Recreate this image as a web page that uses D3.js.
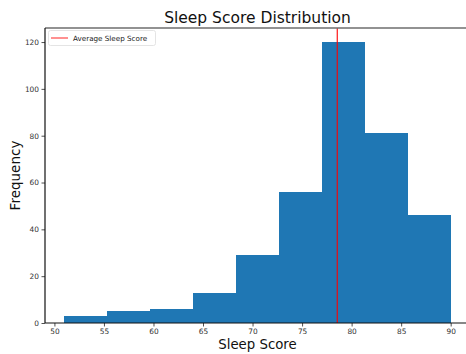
<!DOCTYPE html>
<html>
<head>
<meta charset="utf-8">
<script src="https://cdn.jsdelivr.net/npm/d3@7"></script>
<style>
  html, body { margin: 0; padding: 0; background: #fff; overflow: hidden; width: 466px; height: 354px; }
  svg { display: block; font-family: "DejaVu Sans", sans-serif; overflow: hidden; }
</style>
</head>
<body>
<svg id="chart" width="466" height="354"></svg>
<script>
// Histogram of sleep scores: nine equal-width bins between 51 and 90
const binEdges = [51, 55.333, 59.667, 64, 68.333, 72.667, 77, 81.333, 85.667, 90];
const binCounts = [3, 5, 6, 13, 29, 56, 120, 81, 46];
const averageScore = 78.55;
const xTicks = [50, 55, 60, 65, 70, 75, 80, 85, 90];
const yTicks = [0, 20, 40, 60, 80, 100, 120];

const svg = d3.select("#chart");
const plot = { left: 45, right: 470, top: 28, bottom: 323 };
const W = 466;

const span = binEdges[binEdges.length - 1] - binEdges[0];
const x = d3.scaleLinear()
  .domain([binEdges[0] - 0.05 * span, binEdges[binEdges.length - 1] + 0.05 * span])
  .range([plot.left, plot.right]);
const y = d3.scaleLinear()
  .domain([0, d3.max(binCounts) * 1.05])
  .range([plot.bottom, plot.top]);

const bins = binCounts.map((c, i) => ({ x0: binEdges[i], x1: binEdges[i + 1], count: c }));

// bars
svg.append("g").selectAll("rect").data(bins).join("rect")
  .attr("x", d => x(d.x0))
  .attr("y", d => y(d.count))
  .attr("width", d => x(d.x1) - x(d.x0))
  .attr("height", d => y(0) - y(d.count))
  .attr("fill", "#1f77b4")
  .attr("shape-rendering", "crispEdges");

// average marker
svg.append("line")
  .attr("x1", x(averageScore)).attr("x2", x(averageScore))
  .attr("y1", plot.top).attr("y2", plot.bottom)
  .attr("stroke", "#ff0000").attr("stroke-width", 1.1);

// axes
const xAxis = d3.axisBottom(x).tickValues(xTicks).tickSize(3.5).tickPadding(2.5);
const yAxis = d3.axisLeft(y).tickValues(yTicks).tickSize(3.5).tickPadding(2.5);

const gx = svg.append("g").attr("transform", `translate(0,${plot.bottom})`).call(xAxis);
const gy = svg.append("g").attr("transform", `translate(${plot.left},0)`).call(yAxis);
[gx, gy].forEach(g => {
  g.select(".domain").remove();
  g.selectAll(".tick line").attr("stroke", "#222").attr("stroke-width", 0.8);
  g.selectAll(".tick text").attr("font-size", "7.4px").attr("fill", "#333")
    .attr("font-family", "DejaVu Sans, sans-serif");
});

// spines (the right one falls outside the canvas)
svg.append("line").attr("x1", plot.left).attr("x2", Math.min(plot.right, W))
  .attr("y1", plot.top).attr("y2", plot.top)
  .attr("stroke", "#6e6e6e").attr("stroke-width", 1.3);
svg.append("line").attr("x1", plot.left).attr("x2", plot.left)
  .attr("y1", plot.top).attr("y2", plot.bottom)
  .attr("stroke", "#111").attr("stroke-width", 1.2);
svg.append("line").attr("x1", plot.left).attr("x2", Math.min(plot.right, W))
  .attr("y1", plot.bottom).attr("y2", plot.bottom)
  .attr("stroke", "#111").attr("stroke-width", 1.2);

// title and axis labels
svg.append("text").attr("x", (plot.left + plot.right) / 2).attr("y", 22.5)
  .attr("text-anchor", "middle").attr("font-size", "15.5px").attr("fill", "#111")
  .text("Sleep Score Distribution");
svg.append("text").attr("x", (plot.left + plot.right) / 2).attr("y", 349)
  .attr("text-anchor", "middle").attr("font-size", "13.3px").attr("fill", "#111")
  .text("Sleep Score");
svg.append("text")
  .attr("transform", `translate(20,${(plot.top + plot.bottom) / 2}) rotate(-90)`)
  .attr("text-anchor", "middle").attr("font-size", "13.5px").attr("fill", "#111")
  .text("Frequency");

// legend
const lg = svg.append("g").attr("transform", "translate(48,30)");
lg.append("rect").attr("x", 0.5).attr("y", 0.5).attr("width", 107).attr("height", 15).attr("rx", 2)
  .attr("fill", "#fff").attr("fill-opacity", 0.8).attr("stroke", "#ddd").attr("stroke-width", 0.8);
lg.append("line").attr("x1", 3).attr("x2", 20).attr("y1", 8).attr("y2", 8)
  .attr("stroke", "#ff5555").attr("stroke-width", 1.3);
lg.append("text").attr("x", 25).attr("y", 10.7).attr("font-size", "7.2px").attr("fill", "#222")
  .text("Average Sleep Score");
</script>
</body>
</html>
